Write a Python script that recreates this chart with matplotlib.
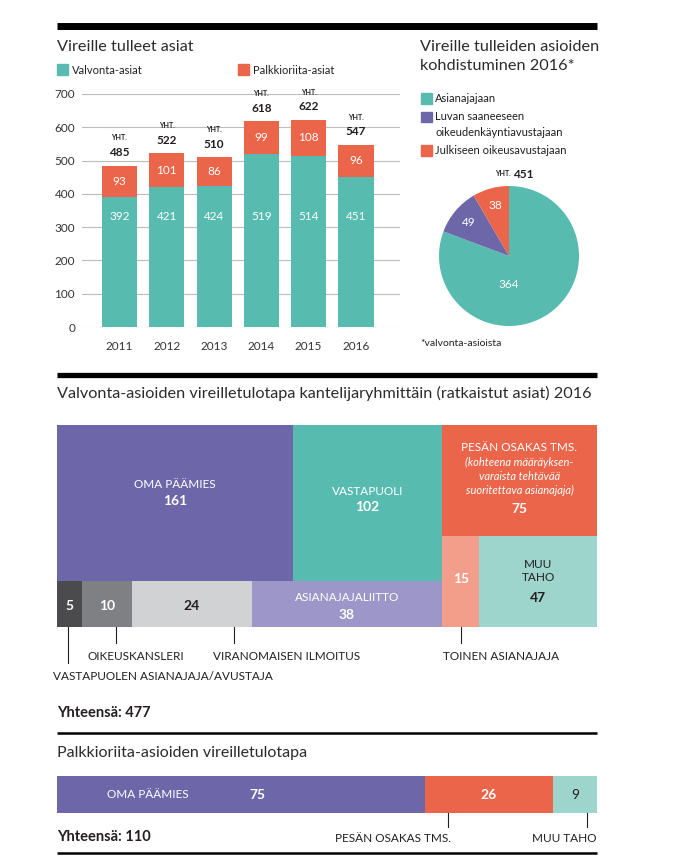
import numpy as np
import matplotlib.pyplot as plt

plt.rcParams["font.family"] = ["Lato", "DejaVu Sans"]

W, H = 679, 863

# Vireille tulleet asiat
years = ["2011", "2012", "2013", "2014", "2015", "2016"]
valvonta = [392, 421, 424, 519, 514, 451]
palkkio = [93, 101, 86, 99, 108, 96]
totals = [485, 522, 510, 618, 622, 547]

# Vireille tulleiden asioiden kohdistuminen 2016
pie_labels = ["Asianajajaan", "Luvan saaneeseen\noikeudenkäyntiavustajaan", "Julkiseen oikeusavustajaan"]
pie_values = [364, 49, 38]
pie_total = 451

# Valvonta-asioiden vireilletulotapa 2016 (treemap)
tm_names = ["OMA PÄÄMIES", "VASTAPUOLI", "VASTAPUOLEN ASIANAJAJA/AVUSTAJA", "OIKEUSKANSLERI",
            "VIRANOMAISEN ILMOITUS", "ASIANAJAJALIITTO", "PESÄN OSAKAS TMS.", "TOINEN ASIANAJAJA", "MUU TAHO"]
tm_values = [161, 102, 5, 10, 24, 38, 75, 15, 47]
tm_total = 477

# Palkkioriita-asioiden vireilletulotapa
pk_names = ["OMA PÄÄMIES", "PESÄN OSAKAS TMS.", "MUU TAHO"]
pk_values = [75, 26, 9]
pk_total = 110

teal = "#57bbb0"
orange = "#ea6549"
purple = "#6d67aa"
lavender = "#9d97c9"
salmon = "#f39e8a"
lightteal = "#9dd4cb"
darkgray = "#4b4b4d"
midgray = "#7f8083"
lightgray = "#d1d2d4"
ink = "#231f20"


def fig_box(x0, y0, x1, y1):
    # pixel box (y down) -> figure fraction rect
    return [x0 / W, 1 - y1 / H, (x1 - x0) / W, (y1 - y0) / H]


fig = plt.figure(figsize=(W / 100, H / 100), dpi=100)

# background axes in pixel coordinates for titles and rules
bg = fig.add_axes([0, 0, 1, 1])
bg.set_xlim(0, W)
bg.set_ylim(H, 0)
bg.axis("off")


def rule(y, lw):
    bg.plot([57, 597], [y, y], color="black", lw=lw, solid_capstyle="butt")


rule(26.5, 5.0)
rule(375.5, 3.8)
rule(732.5, 1.8)
rule(852.5, 1.8)

title = dict(fontsize=11.7, color="#2b2b2b", va="center")

# ---------------- stacked bars ----------------
bg.text(57, 47, "Vireille tulleet asiat", **title)
bg.add_patch(plt.Rectangle((57, 64), 11, 11, color=teal))
bg.text(72, 70, "Valvonta-asiat", fontsize=8, color=ink, va="center")
bg.add_patch(plt.Rectangle((238, 64), 11, 11, color=orange))
bg.text(253, 70, "Palkkioriita-asiat", fontsize=8, color=ink, va="center")

ax = fig.add_axes(fig_box(82, 94, 400, 327))
x = np.arange(len(years))
ax.bar(x, valvonta, width=0.74, color=teal, zorder=2)
ax.bar(x, palkkio, bottom=valvonta, width=0.74, color=orange, zorder=2)
ax.set_xlim(-0.79, 5.93)
ax.set_ylim(0, 700)
ax.set_yticks(range(0, 701, 100))
ax.yaxis.grid(True, color="#bcbcbc", lw=0.8, zorder=0)
ax.set_xticks(x)
ax.set_xticklabels(years)
ax.tick_params(length=0, labelsize=8.5, colors="#333333")
ax.tick_params(axis="x", pad=10)
ax.tick_params(axis="y", pad=5)
for s in ax.spines.values():
    s.set_visible(False)
ax.set_facecolor("none")

for i in range(len(years)):
    ax.text(i, 333, str(valvonta[i]), ha="center", va="center", color="white", fontsize=8.5)
    ax.text(i, valvonta[i] + palkkio[i] / 2, str(palkkio[i]), ha="center", va="center",
            color="white", fontsize=8.5)
    ax.annotate(str(totals[i]), (i, totals[i]), xytext=(0, 9.5), textcoords="offset points",
                ha="center", va="center", fontsize=8.5, fontweight="bold", color=ink,
                annotation_clip=False)
    ax.annotate("YHT.", (i, totals[i]), xytext=(0, 20), textcoords="offset points",
                ha="center", va="center", fontsize=5, fontweight="bold", color=ink,
                annotation_clip=False)

# ---------------- pie ----------------
bg.text(420, 47, "Vireille tulleiden asioiden", **title)
bg.text(420, 66, "kohdistuminen 2016*", **title)
pie_colors = [teal, purple, orange]
leg_y = [98, 117, 150]
for lab, col, ly in zip(pie_labels, pie_colors, leg_y):
    bg.add_patch(plt.Rectangle((421, ly - 5), 11, 11 if "\n" not in lab else 10, color=col))
    lines = lab.split("\n")
    for k, ln in enumerate(lines):
        bg.text(435, ly + k * 15, ln, fontsize=8, color=ink, va="center")
bg.text(511, 174, "YHT.", fontsize=5, fontweight="bold", color=ink, ha="right", va="center")
bg.text(513, 174, str(pie_total), fontsize=8.5, fontweight="bold", color=ink, ha="left", va="center")
bg.text(420, 343, "*valvonta-asioista", fontsize=7.5, color=ink, va="center")

pax = fig.add_axes(fig_box(439, 186, 579, 326))
wedges, texts, autotexts = pax.pie(
    pie_values, colors=pie_colors, startangle=90, counterclock=False,
    autopct=lambda p: f"{round(p * pie_total / 100)}", pctdistance=0.75,
    textprops=dict(color="white", fontsize=8.5))
autotexts[0].set_position((0, -0.4))
pax.set_xlim(-1, 1)
pax.set_ylim(-1, 1)

# ---------------- treemap ----------------
bg.text(57, 393, "Valvonta-asioiden vireilletulotapa kantelijaryhmittäin (ratkaistut asiat) 2016",
        fontsize=11.7, color="#2b2b2b", va="center")


def split(vals, x0, y0, w, h, vertical):
    out = []
    s = float(sum(vals))
    if vertical:
        top = y0 + h
        for v in vals:
            hh = h * v / s
            out.append((x0, top - hh, w, hh))
            top -= hh
    else:
        for v in vals:
            ww = w * v / s
            out.append((x0, y0, ww, h))
            x0 += ww
    return out


layout = [[[0, 1], [2, 3, 4, 5]], [[6], [7, 8]]]
tm_colors = [purple, teal, darkgray, midgray, lightgray, lavender, orange, salmon, lightteal]

tax = fig.add_axes(fig_box(57, 425, 597, 627))
tax.set_xlim(0, 1)
tax.set_ylim(0, 1)
tax.axis("off")

rects = {}
col_sums = [sum(tm_values[i] for r in col for i in r) for col in layout]
for col, (cx, cy, cw, ch) in zip(layout, split(col_sums, 0, 0, 1, 1, False)):
    row_sums = [sum(tm_values[i] for i in r) for r in col]
    for r, (rx, ry, rw, rh) in zip(col, split(row_sums, cx, cy, cw, ch, True)):
        for i, c in zip(r, split([tm_values[i] for i in r], rx, ry, rw, rh, False)):
            rects[i] = c
            tax.add_patch(plt.Rectangle(c[:2], c[2], c[3], color=tm_colors[i], lw=0))

# lines inside cells: (text, style, offset px from cell centre, downward)
cap = dict(fontsize=8.5)
num = dict(fontsize=10, fontweight="bold")
ital = dict(fontsize=8, style="italic")
cell_text = {
    0: ("white", [("OMA PÄÄMIES", cap, -19), ("161", num, -2)]),
    1: ("white", [("VASTAPUOLI", cap, -12), ("102", num, 4)]),
    2: ("white", [("5", num, 2)]),
    3: ("white", [("10", num, 2)]),
    4: (ink, [("24", num, 2)]),
    5: ("white", [("ASIANAJAJALIITTO", cap, -7), ("38", num, 11)]),
    6: ("white", [("PESÄN OSAKAS TMS.", cap, -33), ("(kohteena määräyksen-", ital, -18),
                  ("varaista tehtävää", ital, -4), ("suoritettava asianajaja)", ital, 10),
                  ("75", num, 29)]),
    7: ("white", [("15", num, -2)]),
    8: (ink, [("MUU", cap, -17), ("TAHO", cap, -4), ("47", num, 17)]),
}
for i, (tc, lines) in cell_text.items():
    rx, ry, rw, rh = rects[i]
    for txt, st, dy in lines:
        tax.annotate(txt, (rx + rw / 2, ry + rh / 2), xytext=(0, -dy * 0.72),
                     textcoords="offset points", ha="center", va="center", color=tc, **st)

# leader lines under small cells: (cell, position inside cell, length px)
leaders = [(2, 0.45, 36), (3, 0.68, 16), (4, 0.85, 16), (7, 0.5, 16)]
for i, fx, ln in leaders:
    rx, ry, rw, rh = rects[i]
    tax.plot([rx + rw * fx] * 2, [0, -ln / 202], color=ink, lw=0.8, clip_on=False)

lab = dict(fontsize=8.5, color=ink, va="center")
bg.text(136, 656, tm_names[3], ha="center", **lab)
bg.text(287, 656, tm_names[4], ha="center", **lab)
bg.text(501, 656, tm_names[7], ha="center", **lab)
bg.text(53, 676, tm_names[2], ha="left", **lab)
bg.text(57, 713, f"Yhteensä: {tm_total}", fontsize=10.5, fontweight="bold", color=ink, va="center")

# ---------------- palkkioriita bar ----------------
bg.text(57, 753, "Palkkioriita-asioiden vireilletulotapa", fontsize=11.5, color="#2b2b2b", va="center")
bx = fig.add_axes(fig_box(57, 776, 597, 813))
pk_colors = [purple, orange, lightteal]
lefts = np.concatenate([[0], np.cumsum(pk_values)[:-1]])
bx.barh(0.5, pk_values, left=lefts, height=1, color=pk_colors)
bx.set_xlim(0, pk_total)
bx.set_ylim(0, 1)
bx.axis("off")
bx.text(18.5, 0.5, pk_names[0], ha="center", va="center", color="white", fontsize=8.5)
bx.text(40.9, 0.5, str(pk_values[0]), ha="center", va="center", color="white", **num)
bx.text(lefts[1] + pk_values[1] / 2, 0.5, str(pk_values[1]), ha="center", va="center", color="white", **num)
bx.text(lefts[2] + pk_values[2] / 2, 0.5, str(pk_values[2]), ha="center", va="center", color=ink,
        fontsize=10)
for k, fx in [(1, 0.18), (2, 0.78)]:
    xl = lefts[k] + pk_values[k] * fx
    bx.plot([xl, xl], [0, -14 / 37], color=ink, lw=0.8, clip_on=False)

bg.text(57, 837, f"Yhteensä: {pk_total}", fontsize=10.5, fontweight="bold", color=ink, va="center")
bg.text(393, 838, pk_names[1], ha="center", **lab)
bg.text(597, 838, pk_names[2], ha="right", **lab)

fig.savefig("out.png", dpi=100)
